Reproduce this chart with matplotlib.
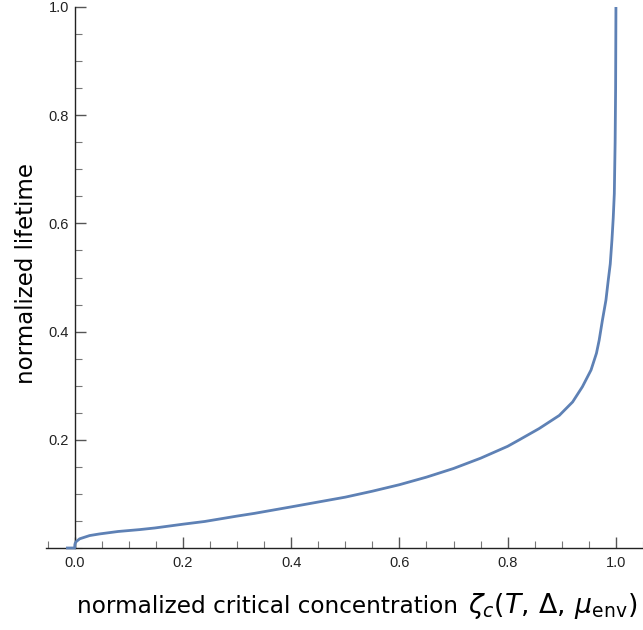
import matplotlib
matplotlib.use("Agg")
import matplotlib.pyplot as plt
from matplotlib.ticker import MultipleLocator, FixedLocator

# data
zeta_c = [-0.016, 0.0, 0.0003, 0.001, 0.003, 0.0092, 0.0277, 0.046, 0.08, 0.12,
          0.148, 0.2, 0.24, 0.3, 0.332, 0.4, 0.45, 0.5, 0.55, 0.6, 0.65, 0.7,
          0.75, 0.8, 0.8215, 0.858, 0.8953, 0.92, 0.938, 0.954, 0.964, 0.969,
          0.975, 0.9815, 0.9858, 0.9895, 0.9926, 0.995, 0.997, 0.9985, 0.9994, 1.0]
lifetime = [0.0, 0.0, 0.006, 0.009, 0.012, 0.017, 0.023, 0.026, 0.0305, 0.034,
            0.037, 0.044, 0.049, 0.059, 0.064, 0.076, 0.085, 0.094, 0.105, 0.117,
            0.131, 0.147, 0.166, 0.188, 0.200, 0.2207, 0.245, 0.270, 0.298, 0.329,
            0.36, 0.384, 0.421, 0.458, 0.495, 0.525, 0.569, 0.61, 0.655, 0.75,
            0.85, 1.0]

x_ticks = [0.0, 0.2, 0.4, 0.6, 0.8, 1.0]
y_ticks = [0.2, 0.4, 0.6, 0.8, 1.0]

plt.rcParams['font.family'] = ['Liberation Sans', 'DejaVu Sans']
plt.rcParams['mathtext.fontset'] = 'dejavusans'

fig = plt.figure(figsize=(6.43, 6.30), dpi=100)
ax = fig.add_axes([46/643, 1 - 548/630, 1 - 46/643, (548 - 7)/630])

ax.plot(zeta_c, lifetime, color='#5E81B5', lw=2.0, clip_on=False,
        solid_capstyle='butt', solid_joinstyle='round', zorder=3)

ax.set_xlim(-0.053, 1.05)
ax.set_ylim(0, 1.0)

ax.spines['top'].set_visible(False)
ax.spines['right'].set_visible(False)
ax.spines['left'].set_position(('data', 0))
for s in ('left', 'bottom'):
    ax.spines[s].set_color('#222222')
    ax.spines[s].set_linewidth(1.0)

ax.xaxis.set_major_locator(FixedLocator(x_ticks))
ax.yaxis.set_major_locator(FixedLocator(y_ticks))
ax.xaxis.set_minor_locator(MultipleLocator(0.05))
ax.yaxis.set_minor_locator(MultipleLocator(0.05))
ax.set_xticklabels([f"{v:.1f}" for v in x_ticks])
ax.set_yticklabels([f"{v:.1f}" for v in y_ticks])

ax.tick_params(axis='both', which='major', direction='in', length=8, width=1.0,
               color='#555555', labelsize=10.5, labelcolor='#222222')
ax.tick_params(axis='both', which='minor', direction='in', length=5, width=0.8,
               color='#777777')
ax.tick_params(axis='x', which='major', pad=6)
ax.tick_params(axis='y', which='major', pad=4)

fig.text(458/643, 1 - 613/630, 'normalized critical concentration',
         ha='right', va='baseline', fontsize=16.7, family=['DejaVu Sans'])
fig.text(468/643, 1 - 613/630,
         r'$\zeta_c(T,\,\mathit{\Delta},\,\mu_{\mathrm{env}})$',
         ha='left', va='baseline', fontsize=19.3, family=['DejaVu Sans'])
fig.text(27/643, 1 - 273/630, 'normalized lifetime', rotation=90,
         ha='center', va='center', fontsize=16.5, family=['DejaVu Sans'])

fig.savefig('out.png', dpi=100)
